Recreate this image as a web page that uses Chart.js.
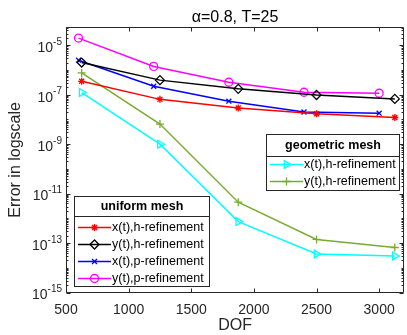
<!DOCTYPE html>
<html>
<head>
<meta charset="utf-8">
<script src="https://cdn.jsdelivr.net/npm/chart.js@4.4.1/dist/chart.umd.min.js"></script>
<style>
  html, body { margin: 0; padding: 0; background: #fff; overflow: hidden; }
  #wrap { width: 410px; height: 335px; }
</style>
</head>
<body>
<div id="wrap"><canvas id="errChart" width="410" height="335"></canvas></div>
<script>
// DOF values (two meshes use slightly different counts)
const dofH = [625, 1250, 1875, 2500, 3125];
const dofP = [600, 1200, 1800, 2400, 3000];

// uniform mesh errors
const uniXh = [3.5e-7, 6.5e-8, 2.9e-8, 1.7e-8, 1.2e-8];
const uniYh = [2.0e-6, 3.9e-7, 1.73e-7, 9.8e-8, 6.8e-8];
const uniXp = [2.5e-6, 2.2e-7, 5.5e-8, 2.0e-8, 1.8e-8];
const uniYp = [1.96e-5, 1.4e-6, 3.2e-7, 1.26e-7, 1.15e-7];

// geometric mesh errors
const geoXh = [1.23e-7, 1.0e-9, 7.4e-13, 3.6e-14, 3.0e-14];
const geoYh = [7.6e-7, 6.5e-9, 4.5e-12, 1.4e-13, 6.6e-14];

const xTicks = [500, 1000, 1500, 2000, 2500, 3000];
const yExps = [-15, -13, -11, -9, -7, -5];

const FONT = '"Liberation Sans", Arial, Helvetica, sans-serif';
const AXIS = "#262626";
const NONE = "rgba(0,0,0,0)";

const uniformSeries = [
  { label: "x(t),h-refinement", x: dofH, y: uniXh, color: "#ff0000", style: "star", r: 3.5 },
  { label: "y(t),h-refinement", x: dofH, y: uniYh, color: "#000000", style: "rectRot", r: 4.5 },
  { label: "x(t),p-refinement", x: dofP, y: uniXp, color: "#0000ff", style: "crossRot", r: 3.5 },
  { label: "y(t),p-refinement", x: dofP, y: uniYp, color: "#ff00ff", style: "circle", r: 4 },
];
const geometricSeries = [
  { label: "x(t),h-refinement", x: dofH, y: geoXh, color: "#00ffff", style: "triangle", r: 4.5, rot: 90 },
  { label: "y(t),h-refinement", x: dofH, y: geoYh, color: "#77ac30", style: "cross", r: 4 },
];

function toDataset(s) {
  return {
    label: s.label,
    data: s.x.map((v, i) => ({ x: v, y: s.y[i] })),
    borderColor: s.color,
    backgroundColor: NONE,
    borderWidth: 1.5,
    pointStyle: s.style,
    pointRadius: s.r,
    pointRotation: s.rot || 0,
    pointBorderColor: s.color,
    pointBackgroundColor: NONE,
    pointBorderWidth: 1.3,
    tension: 0,
  };
}

// axes box + inward ticks, like the matlab figure
const boxPlugin = {
  id: "box",
  afterDatasetsDraw(chart) {
    const { ctx, chartArea: a, scales } = chart;
    const L = Math.round(a.left) + 0.5, R = Math.round(a.right) - 0.5;
    const T = Math.round(a.top) + 0.5, B = Math.round(a.bottom) - 0.5;
    ctx.save();
    ctx.strokeStyle = AXIS;
    ctx.lineWidth = 1;
    ctx.beginPath();
    ctx.moveTo(L, T); ctx.lineTo(R, T); ctx.lineTo(R, B); ctx.lineTo(L, B); ctx.closePath();
    xTicks.forEach(v => {
      const px = Math.round(scales.x.getPixelForValue(v)) + 0.5;
      ctx.moveTo(px, B); ctx.lineTo(px, B - 4);
      ctx.moveTo(px, T); ctx.lineTo(px, T + 4);
    });
    for (let e = -15; e <= -5; e++) {
      for (let m = 1; m < 10; m++) {
        const v = m * Math.pow(10, e);
        if (v > scales.y.max) continue;
        const py = Math.round(scales.y.getPixelForValue(v)) + 0.5;
        const len = (m === 1 && yExps.includes(e)) ? 4 : 2;
        ctx.moveTo(L, py); ctx.lineTo(L + len, py);
        ctx.moveTo(R, py); ctx.lineTo(R - len, py);
      }
    }
    ctx.stroke();

    // y tick labels as 10 with a raised exponent
    ctx.fillStyle = AXIS;
    ctx.textBaseline = "middle";
    yExps.forEach(e => {
      const py = scales.y.getPixelForValue(Math.pow(10, e));
      const exp = String(e);
      ctx.font = "10px " + FONT;
      const ew = ctx.measureText(exp).width;
      const xr = a.left - 4;
      ctx.textAlign = "left";
      ctx.fillText(exp, xr - ew, py - 3);
      ctx.font = "14px " + FONT;
      ctx.textAlign = "right";
      ctx.fillText("10", xr - ew, py + 3);
    });
    ctx.restore();
  },
};

function drawLegendBox(ctx, box, title, series) {
  ctx.save();
  ctx.fillStyle = "#fff";
  ctx.fillRect(box.x, box.y, box.w, box.h);
  ctx.strokeStyle = AXIS;
  ctx.lineWidth = 1;
  ctx.strokeRect(box.x + 0.5, box.y + 0.5, box.w - 1, box.h - 1);
  ctx.beginPath();
  ctx.moveTo(box.x, box.y + box.titleH + 0.5);
  ctx.lineTo(box.x + box.w, box.y + box.titleH + 0.5);
  ctx.stroke();

  ctx.fillStyle = "#000";
  ctx.textBaseline = "middle";
  ctx.textAlign = "center";
  ctx.font = "bold 12.5px " + FONT;
  ctx.fillText(title, box.x + box.w / 2, box.y + box.titleH / 2 + 0.5);

  ctx.font = "12.5px " + FONT;
  ctx.textAlign = "left";
  series.forEach((s, i) => {
    const cy = box.y + box.titleH + box.first + i * box.row;
    const x0 = box.x + 4, x1 = x0 + 33;
    ctx.strokeStyle = s.color;
    ctx.lineWidth = 1.5;
    ctx.beginPath();
    ctx.moveTo(x0, cy); ctx.lineTo(x1, cy);
    ctx.stroke();
    ctx.fillStyle = NONE;
    ctx.lineWidth = 1.3;
    Chart.helpers.drawPoint(ctx, { pointStyle: s.style, radius: s.r, rotation: s.rot || 0, borderWidth: 1.3 }, (x0 + x1) / 2, cy);
    ctx.fillStyle = "#000";
    ctx.fillText(s.label, x1 + 1, cy + 0.5);
  });
  ctx.restore();
}

const legendPlugin = {
  id: "twoLegends",
  afterDraw(chart) {
    const ctx = chart.ctx;
    drawLegendBox(ctx, { x: 74, y: 196, w: 136, h: 91, titleH: 20, first: 11.5, row: 17 }, "uniform mesh", uniformSeries);
    drawLegendBox(ctx, { x: 266, y: 134, w: 134, h: 57, titleH: 22, first: 8.5, row: 17 }, "geometric mesh", geometricSeries);
  },
};

Chart.defaults.font.family = FONT;
Chart.defaults.color = AXIS;

new Chart(document.getElementById("errChart"), {
  type: "line",
  data: {
    datasets: uniformSeries.concat(geometricSeries).map(toDataset),
  },
  options: {
    responsive: false,
    animation: false,
    devicePixelRatio: 1,
    layout: { padding: { left: 0, right: 1, top: 0, bottom: 0 } },
    plugins: {
      legend: { display: false },
      tooltip: { enabled: false },
      title: {
        display: true,
        text: "\u03b1=0.8, T=25",
        fullSize: false,
        color: "#000",
        font: { size: 16, weight: "normal" },
        padding: { top: 8, bottom: 0 },
      },
    },
    scales: {
      x: {
        type: "linear",
        min: 500,
        max: 3200,
        afterBuildTicks: s => { s.ticks = xTicks.map(v => ({ value: v })); },
        afterFit: s => { s.height = 42.5; },
        grid: { display: false, drawTicks: false },
        border: { display: false },
        ticks: { font: { size: 14 }, color: AXIS, padding: 9, autoSkip: false, maxRotation: 0, callback: v => String(v) },
        title: { display: true, text: "DOF", font: { size: 16 }, color: AXIS, padding: { top: 0, bottom: 0 } },
      },
      y: {
        type: "logarithmic",
        min: 1e-15,
        max: 5.4e-5,
        afterBuildTicks: s => { s.ticks = yExps.map(e => ({ value: Math.pow(10, e) })); },
        afterFit: s => { s.width = 66; },
        grid: { display: false, drawTicks: false },
        border: { display: false },
        ticks: { display: false },
        title: { display: true, text: "Error in logscale", font: { size: 16 }, color: AXIS, padding: { top: 5.5, bottom: 0 } },
      },
    },
  },
  plugins: [boxPlugin, legendPlugin],
});
</script>
</body>
</html>
